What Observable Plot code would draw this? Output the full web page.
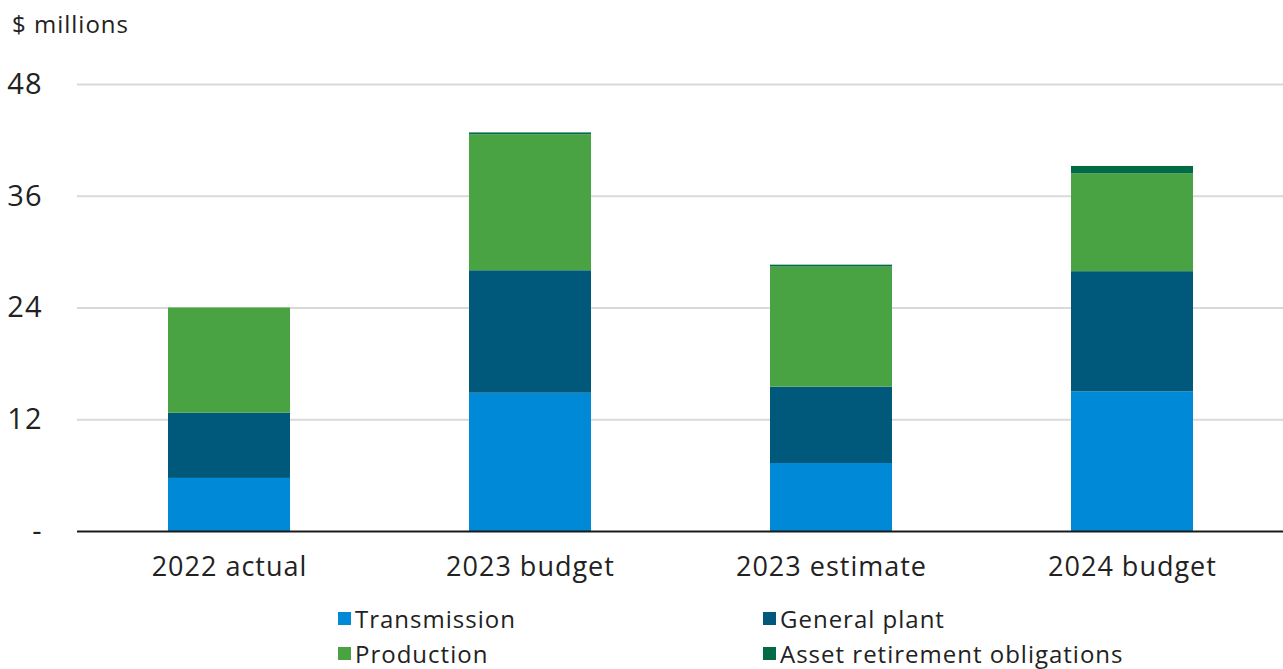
<!DOCTYPE html>
<html>
<head>
<meta charset="utf-8">
<script src="https://cdn.jsdelivr.net/npm/d3@7"></script>
<script src="https://cdn.jsdelivr.net/npm/@observablehq/plot@0.6"></script>
<style>
  html, body { margin: 0; padding: 0; background: #fff; }
  body { width: 1283px; height: 669px; position: relative; overflow: hidden; font-family: "Open Sans", Lato, sans-serif; color: #222; }
  #unit { position: absolute; left: 12px; top: 7px; font-size: 24px; letter-spacing: 1px; }
  #chart { position: absolute; left: 0; top: 0; }
  .leg { position: absolute; font-size: 24px; letter-spacing: 1px; display: flex; align-items: center; white-space: nowrap; }
  .sw { width: 13px; height: 13px; margin-right: 4px; display: inline-block; }
</style>
</head>
<body>
<div id="chart"></div>
<div id="unit">$ millions</div>
<div id="legend"></div>
<script>
const categories = ["2022 actual", "2023 budget", "2023 estimate", "2024 budget"];
const seriesNames = ["Transmission", "General plant", "Production", "Asset retirement obligations"];
const transmission = [5.7, 14.85, 7.3, 15.0];
const generalPlant = [7.0, 13.15, 8.2, 12.9];
const production = [11.3, 14.6, 12.9, 10.5];
const assetRetirement = [0, 0.2, 0.2, 0.8];
const yTicks = [0, 12, 24, 36, 48];
const colors = ["#0089d6", "#00587a", "#4aa342", "#006b45"];

const seriesValues = [transmission, generalPlant, production, assetRetirement];
const data = [];
seriesNames.forEach((s, si) => {
  categories.forEach((c, ci) => data.push({category: c, series: s, value: seriesValues[si][ci]}));
});

const plot = Plot.plot({
  width: 1283,
  height: 600,
  marginTop: 84,
  marginBottom: 69,
  marginLeft: 77,
  marginRight: 0,
  style: {fontFamily: "'Open Sans', Lato, sans-serif", fontSize: "27px", letterSpacing: "1px", color: "#222", background: "transparent"},
  x: {domain: categories, padding: 0.595, paddingOuter: 0.2975, label: null, tickSize: 0, tickPadding: 25},
  y: {domain: [0, 48], ticks: yTicks, tickFormat: d => d === 0 ? "-" : d, label: null, tickSize: 0, tickPadding: 35},
  color: {domain: seriesNames, range: colors},
  marks: [
    Plot.ruleY(yTicks.filter(d => d > 0), {stroke: "#d9d9d9", strokeWidth: 2}),
    Plot.barY(data, Plot.stackY({x: "category", y: "value", fill: "series", order: seriesNames})),
    Plot.ruleY([0], {stroke: "#1a1a1a", strokeWidth: 2})
  ]
});
document.getElementById("chart").appendChild(plot);
d3.select(plot).selectAll("[aria-label='y-axis tick label'] text, [aria-label='y-axis tick label']").style("font-size", "29px");

const legendPos = [[338, 619], [763, 619], [338, 654], [763, 654]];
const legend = document.getElementById("legend");
seriesNames.forEach((s, i) => {
  const d = document.createElement("div");
  d.className = "leg";
  d.style.left = legendPos[i][0] + "px";
  d.style.top = (legendPos[i][1] - 17) + "px";
  d.style.height = "32px";
  d.innerHTML = `<span class="sw" style="background:${colors[i]}"></span><span>${s}</span>`;
  legend.appendChild(d);
});
</script>
</body>
</html>
